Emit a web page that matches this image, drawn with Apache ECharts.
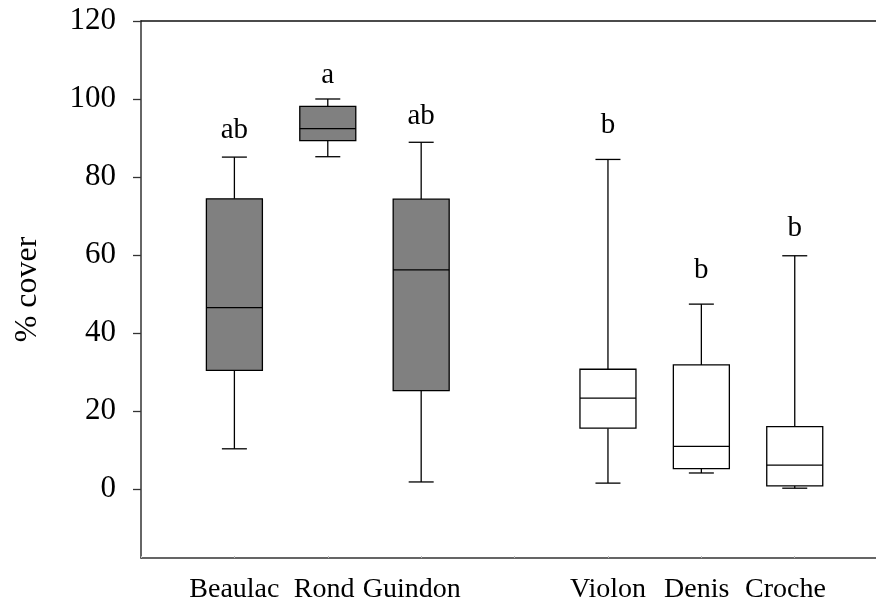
<!DOCTYPE html>
<html>
<head>
<meta charset="utf-8">
<script src="https://cdn.jsdelivr.net/npm/echarts@6/dist/echarts.min.js"></script>
<style>
html,body{margin:0;padding:0;background:#fff;}
#chart{width:876px;height:605px;}
</style>
</head>
<body>
<div id="chart"></div>
<script>
// ---- data ----
const categories = ['Beaulac', 'Rond', 'Guindon', 'Violon', 'Denis', 'Croche'];
const xPos = [1, 2, 3, 5, 6, 7];
const labelPos = [1, 1.96, 2.9, 5, 5.95, 6.9];
const whiskerLow  = [10.3, 85.2, 1.8, 1.5, 4.1, 0.2];
const q1          = [30.4, 89.3, 25.2, 15.6, 5.2, 0.8];
const median      = [46.5, 92.4, 56.2, 23.3, 10.9, 6.1];
const q3          = [74.4, 98.1, 74.3, 30.7, 31.8, 16.0];
const whiskerHigh = [85.1, 100.0, 88.9, 84.5, 47.4, 59.8];
const groupType   = ['shaded', 'shaded', 'shaded', 'open', 'open', 'open'];
const letters     = ['ab', 'a', 'ab', 'b', 'b', 'b'];
const letterY     = [91.9, 106.0, 95.5, 93.2, 56.0, 66.8];
const yTicks      = [0, 20, 40, 60, 80, 100, 120];

const FONT = "'Liberation Serif', 'Times New Roman', serif";
const fills = { shaded: '#808080', open: '#ffffff' };

const boxData = categories.map((c, i) => [xPos[i], whiskerLow[i], q1[i], median[i], q3[i], whiskerHigh[i], i]);
const letterData = categories.map((c, i) => [xPos[i], letterY[i], i]);

const chart = echarts.init(document.getElementById('chart'), null, { renderer: 'canvas' });

const BOX_W = 56, CAP_W = 25, LW = 1.3;

chart.setOption({
  animation: false,
  backgroundColor: '#ffffff',
  grid: { left: 141, right: 0, top: 21, bottom: 47, containLabel: false, outerBoundsMode: 'none' },
  xAxis: [{
    type: 'value', min: 0, max: 7.87, interval: 1,
    splitLine: { show: false },
    axisLine: { show: true, onZero: false, lineStyle: { color: '#333', width: 1.5 } },
    axisTick: { show: true, inside: true, length: 2, lineStyle: { color: '#bbb', width: 1 } },
    axisLabel: {
      show: true, customValues: labelPos, margin: 18,
      fontFamily: FONT, fontSize: 28, color: '#000',
      formatter: function (v) { const i = labelPos.indexOf(v); return i >= 0 ? categories[i] : ''; }
    }
  }, {
    type: 'value', position: 'top', min: 0, max: 7.87,
    splitLine: { show: false },
    axisLine: { show: true, onZero: false, lineStyle: { color: '#111', width: 1.5 } },
    axisTick: { show: false }, axisLabel: { show: false }
  }],
  yAxis: {
    type: 'value', min: -17.7, max: 120,
    name: '% cover', nameLocation: 'middle', nameGap: 97,
    nameTextStyle: { fontFamily: FONT, fontSize: 32, color: '#000' },
    splitLine: { show: false },
    axisLine: { show: true, onZero: false, lineStyle: { color: '#333', width: 1.5 } },
    axisTick: { show: true, customValues: yTicks, length: 8, lineStyle: { color: '#333', width: 1.3 } },
    axisLabel: { show: true, customValues: yTicks, margin: 25, fontFamily: FONT, fontSize: 31, color: '#000' }
  },
  series: [{
    type: 'custom',
    xAxisIndex: 0,
    data: boxData,
    renderItem: function (params, api) {
      const x = api.value(0);
      const idx = api.value(6);
      const lo = api.coord([x, api.value(1)]);
      const b1 = api.coord([x, api.value(2)]);
      const md = api.coord([x, api.value(3)]);
      const b3 = api.coord([x, api.value(4)]);
      const hi = api.coord([x, api.value(5)]);
      const cx = lo[0];
      const st = { stroke: '#000', lineWidth: LW, fill: null };
      return {
        type: 'group',
        children: [
          { type: 'line', shape: { x1: cx, y1: lo[1], x2: cx, y2: b1[1] }, style: st },
          { type: 'line', shape: { x1: cx, y1: b3[1], x2: cx, y2: hi[1] }, style: st },
          { type: 'line', shape: { x1: cx - CAP_W / 2, y1: lo[1], x2: cx + CAP_W / 2, y2: lo[1] }, style: st },
          { type: 'line', shape: { x1: cx - CAP_W / 2, y1: hi[1], x2: cx + CAP_W / 2, y2: hi[1] }, style: st },
          { type: 'rect', shape: { x: cx - BOX_W / 2, y: b3[1], width: BOX_W, height: b1[1] - b3[1] },
            style: { stroke: '#000', lineWidth: LW, fill: fills[groupType[idx]] } },
          { type: 'line', shape: { x1: cx - BOX_W / 2, y1: md[1], x2: cx + BOX_W / 2, y2: md[1] }, style: st }
        ]
      };
    }
  }, {
    type: 'custom',
    xAxisIndex: 0,
    data: letterData,
    renderItem: function (params, api) {
      const p = api.coord([api.value(0), api.value(1)]);
      return {
        type: 'text', x: p[0], y: p[1],
        style: { text: letters[api.value(2)], font: '29px ' + FONT, fill: '#000', align: 'center', verticalAlign: 'middle' }
      };
    }
  }]
});
</script>
</body>
</html>
